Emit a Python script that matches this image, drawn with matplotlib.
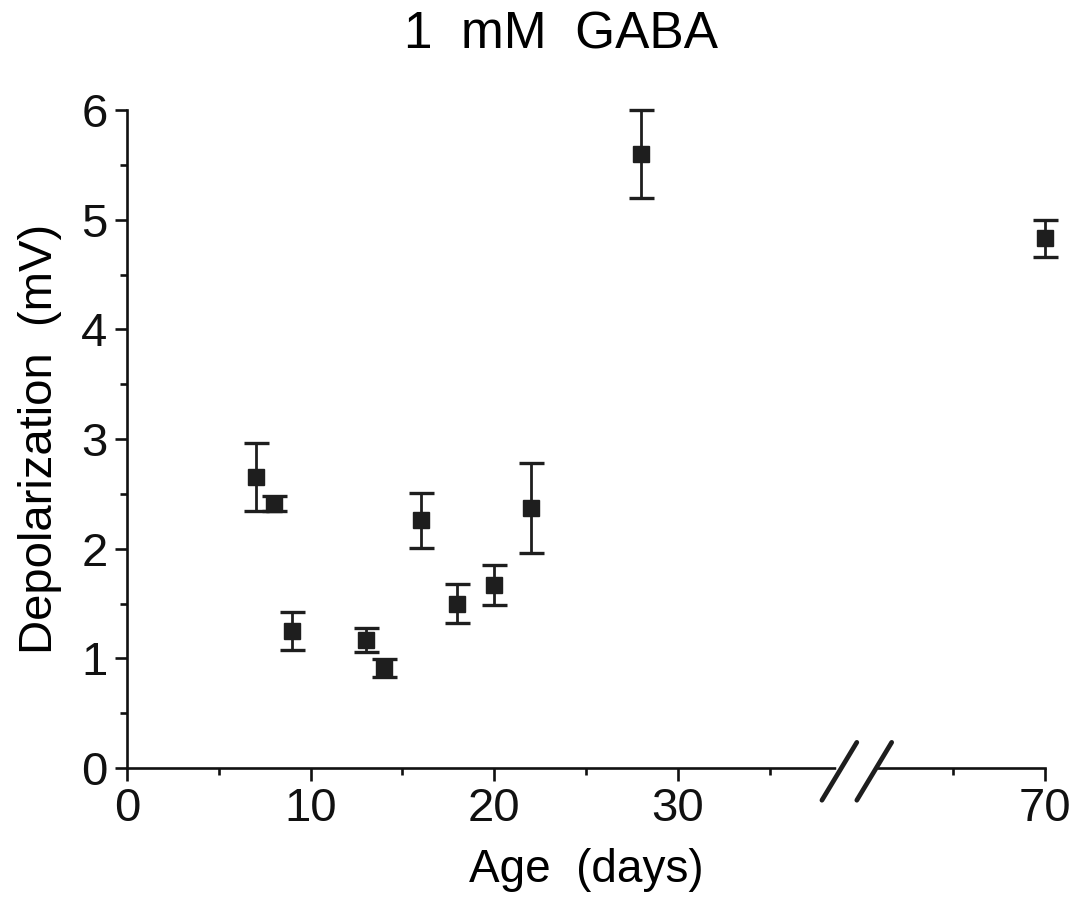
import matplotlib
matplotlib.use("Agg")
import matplotlib.pyplot as plt
import matplotlib.transforms as mtransforms
import numpy as np

plt.rcParams['font.family'] = ['Liberation Sans', 'DejaVu Sans']

# data
age = [7, 8, 9, 13, 14, 16, 18, 20, 22, 28, 70]
depol = [2.65, 2.41, 1.25, 1.17, 0.91, 2.26, 1.50, 1.67, 2.37, 5.60, 4.83]
err = [0.31, 0.07, 0.17, 0.11, 0.08, 0.25, 0.18, 0.18, 0.41, 0.40, 0.17]

# broken x axis: ages beyond the break are shifted left
break_shift = 20
tick_pos = [0, 10, 20, 30, 50]
tick_labels = ['0', '10', '20', '30', '70']
minor_pos = [5, 15, 25, 35, 45]


def to_axis(a):
    a = np.asarray(a, dtype=float)
    return np.where(a > 40, a - break_shift, a)


fig = plt.figure(figsize=(10.86, 9.01), dpi=100)
ax = fig.add_axes([127 / 1086, 1 - 768 / 901, (1045 - 127) / 1086, (768 - 110) / 901])

ax.errorbar(to_axis(age), depol, yerr=err, fmt='s', color='#1e1e1e',
            markersize=11.5, elinewidth=2.0, capsize=9, capthick=2.4, clip_on=False)

ax.set_xlim(0, 50)
ax.set_ylim(0, 6)
ax.set_xticks(tick_pos)
ax.set_xticklabels(tick_labels)
ax.set_xticks(minor_pos, minor=True)
ax.set_yticks(range(0, 7))
ax.set_yticks(np.arange(0.5, 6, 1.0), minor=True)

for side in ['top', 'right']:
    ax.spines[side].set_visible(False)
for side in ['left', 'bottom']:
    ax.spines[side].set_linewidth(1.9)
    ax.spines[side].set_color('#111111')

ax.tick_params(which='major', direction='out', length=9, width=1.9, labelsize=34,
               colors='#111111', pad=5)
ax.tick_params(which='minor', direction='out', length=5, width=1.9, colors='#111111')

# break marks on the x axis
trans = mtransforms.blended_transform_factory(ax.transData, ax.transAxes)
ax.plot([38.8, 40.7], [0, 0], color='white', lw=4, transform=trans, clip_on=False, zorder=5)
for xc in [38.8, 40.7]:
    ax.plot([xc - 0.95, xc + 0.95], [-0.049, 0.039], color='#1e1e1e', lw=3.4,
            transform=trans, clip_on=False, zorder=6, solid_capstyle='round')

ax.set_xlabel('Age  (days)', fontsize=33, labelpad=12)
ax.set_ylabel('Depolarization  (mV)', fontsize=34, labelpad=14)
fig.text(561 / 1086, 1 - 35 / 901, '1  mM  GABA', fontsize=37, ha='center', va='center')

fig.savefig('out.png', dpi=100, facecolor='white')
